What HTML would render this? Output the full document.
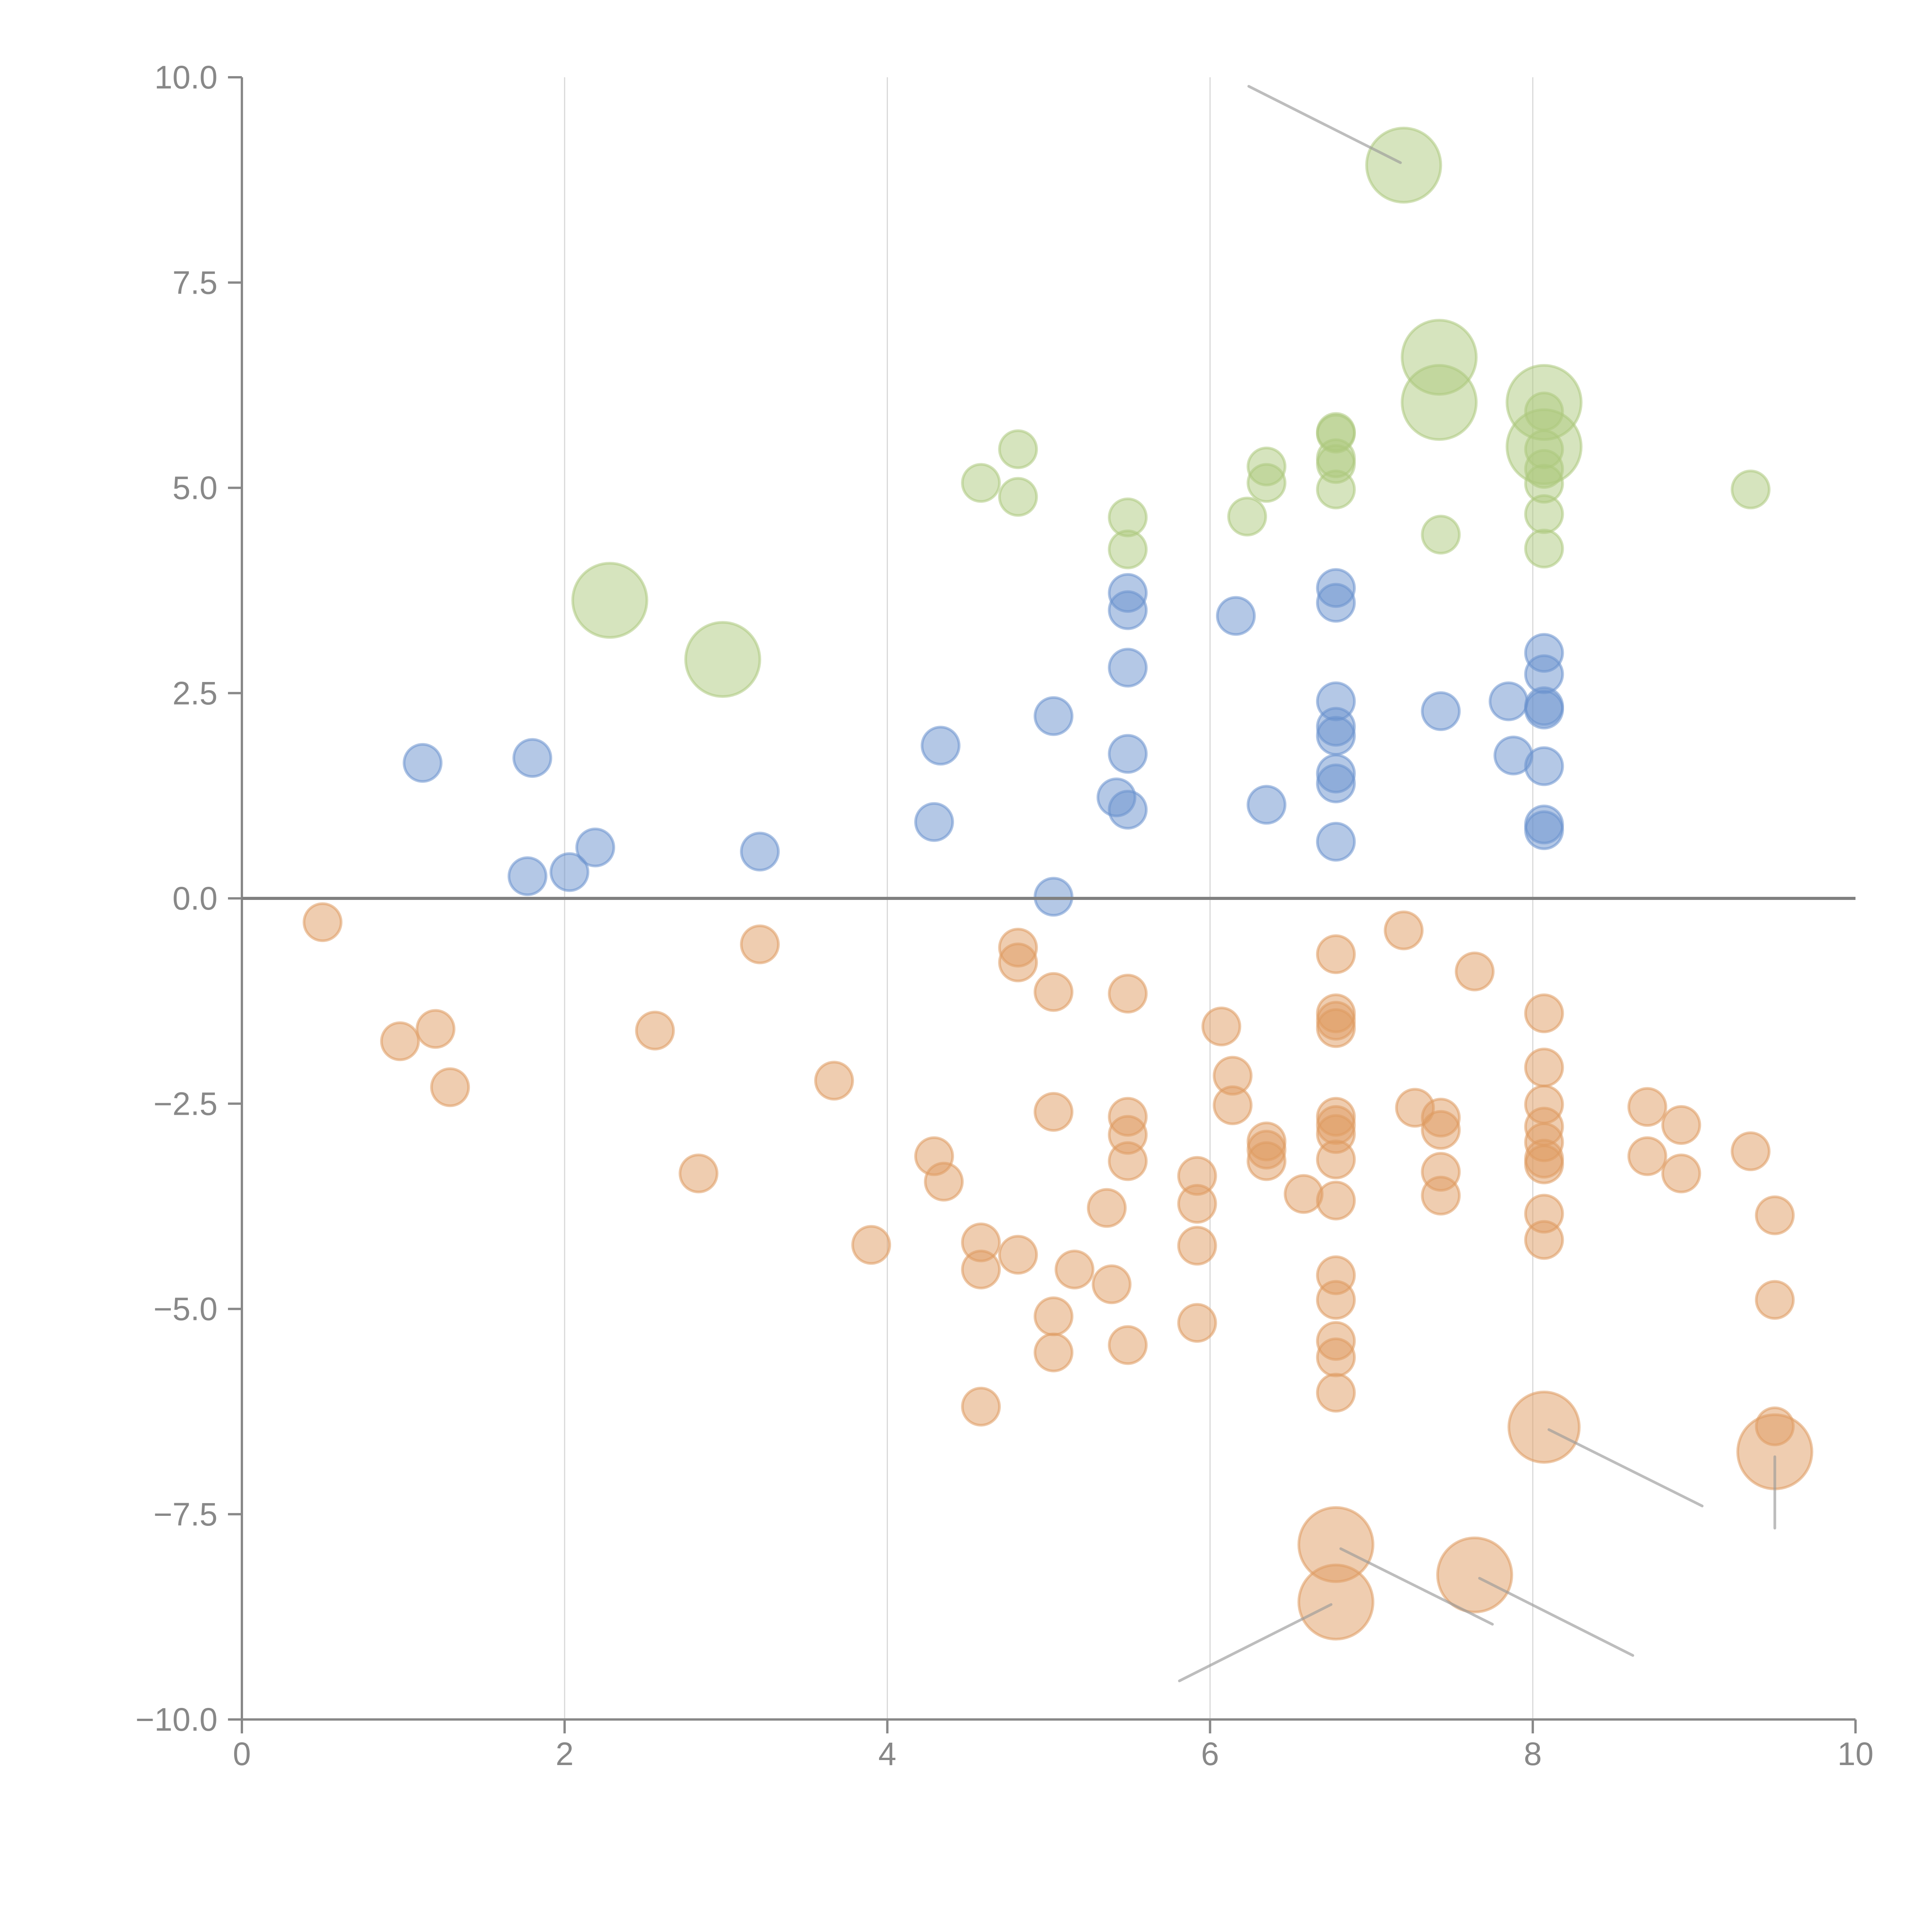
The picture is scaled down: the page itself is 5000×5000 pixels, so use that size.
<!DOCTYPE html>
<html><head><meta charset="utf-8"><style>html,body{margin:0;padding:0;background:#fff}svg{display:block}</style></head>
<body>
<svg id="chart" width="5000" height="5000" viewBox="0 0 5000 5000" xmlns="http://www.w3.org/2000/svg" font-family="Liberation Sans, sans-serif">
<g id="grid"></g>
<g id="marks"></g>
<g id="leaders"></g>
<g id="axes"></g>
</svg>
<script>
const xTicks=[0,2,4,6,8,10];
const xTickLabels=["0","2","4","6","8","10"];
const yTicks=[10,7.5,5,2.5,0,-2.5,-5,-7.5,-10];
const yTickLabels=["10.0","7.5","5.0","2.5","0.0","\u22122.5","\u22125.0","\u22127.5","\u221210.0"];
const blueX=[1.12,1.80,1.77,2.03,2.19,3.21,4.33,4.29,5.03,5.03,5.42,5.49,5.49,5.49,5.49,5.49,6.16,6.35,6.78,6.78,6.78,6.78,6.78,6.78,6.78,6.78,7.43,7.85,7.88,8.07,8.07,8.07,8.07,8.07,8.07,8.07];
const blueY=[1.65,1.71,0.27,0.32,0.62,0.57,1.86,0.93,2.22,0.02,1.23,1.08,1.76,2.81,3.51,3.72,3.44,1.14,3.78,3.60,2.40,2.09,1.98,1.52,1.40,0.69,2.28,2.40,1.74,2.99,2.73,2.34,2.30,1.61,0.90,0.83];
const greenX=[4.58,4.81,4.81,5.49,5.49,6.23,6.35,6.35,6.78,6.78,6.78,6.78,6.78,7.43,8.07,8.07,8.07,8.07,8.07,8.07,9.35,2.28,2.98,7.20,7.42,7.42,8.07,8.07];
const greenY=[5.06,5.47,4.89,4.64,4.25,4.65,5.26,5.06,5.68,5.66,5.36,5.29,4.98,4.43,5.93,5.47,5.23,5.05,4.68,4.26,4.98,3.63,2.91,8.93,6.59,6.04,6.04,5.50];
const greenSize=[1,1,1,1,1,1,1,1,1,1,1,1,1,1,1,1,1,1,1,1,1,4,4,4,4,4,4,4];
const orangeX=[0.50,0.98,1.20,1.29,2.56,2.83,3.21,3.67,3.90,4.29,4.35,4.58,4.58,4.58,4.81,4.81,4.81,5.03,5.03,5.03,5.03,5.16,5.36,5.39,5.49,5.49,5.49,5.49,5.49,5.92,5.92,5.92,5.92,6.07,6.14,6.14,6.35,6.35,6.35,6.58,6.78,6.78,6.78,6.78,6.78,6.78,6.78,6.78,6.78,6.78,6.78,6.78,6.78,6.78,7.20,7.27,7.43,7.43,7.43,7.43,7.64,8.07,8.07,8.07,8.07,8.07,8.07,8.07,8.07,8.07,8.71,8.71,8.92,8.92,9.35,9.50,9.50,9.50,8.07,6.78,6.78,7.64,9.50];
const orangeY=[-0.29,-1.74,-1.59,-2.30,-1.61,-3.35,-0.56,-2.22,-4.22,-3.14,-3.45,-4.19,-4.52,-6.19,-0.60,-0.78,-4.34,-1.14,-2.60,-5.09,-5.53,-4.52,-3.77,-4.70,-1.16,-2.66,-2.88,-3.20,-5.44,-3.38,-3.72,-4.23,-5.17,-1.56,-2.16,-2.52,-2.96,-3.06,-3.20,-3.60,-0.68,-1.40,-1.49,-1.58,-2.66,-2.76,-2.87,-3.18,-3.68,-4.59,-4.89,-5.39,-5.59,-6.02,-0.39,-2.55,-2.67,-2.82,-3.33,-3.62,-0.89,-1.40,-2.06,-2.51,-2.78,-2.97,-3.17,-3.24,-3.84,-4.16,-2.54,-3.14,-2.76,-3.35,-3.08,-3.86,-4.89,-6.43,-6.44,-7.87,-8.57,-8.24,-6.74];
const orangeSize=[1,1,1,1,1,1,1,1,1,1,1,1,1,1,1,1,1,1,1,1,1,1,1,1,1,1,1,1,1,1,1,1,1,1,1,1,1,1,1,1,1,1,1,1,1,1,1,1,1,1,1,1,1,1,1,1,1,1,1,1,1,1,1,1,1,1,1,1,1,1,1,1,1,1,1,1,1,1,3.6,4,4,4,4];
const leaderX1=[6.24,8.10,6.81,7.67,6.75,9.50];
const leaderY1=[9.89,-6.47,-7.92,-8.28,-8.60,-6.80];
const leaderX2=[7.18,9.05,7.75,8.62,5.81,9.50];
const leaderY2=[8.96,-7.40,-8.84,-9.22,-9.53,-7.67];

const NS="http://www.w3.org/2000/svg";
const X0=626,X1=4802,Y0=4450,Y1=200;
function sx(v){return X0+(v-0)/(10-0)*(X1-X0);}
function sy(v){return Y0-(v+10)/20*(Y0-Y1);}
function sr(s){return 48*Math.sqrt(s);}
function mk(tag,attrs,parent){const e=document.createElementNS(NS,tag);for(const k in attrs)e.setAttribute(k,attrs[k]);parent.appendChild(e);return e;}
const grid=document.getElementById('grid'),marks=document.getElementById('marks'),leaders=document.getElementById('leaders'),axes=document.getElementById('axes');
const AX="#888";
xTicks.forEach((t,i)=>{
  if(t>0&&t<10){const g=mk('line',{x1:sx(t),x2:sx(t),y1:Y1,y2:Y0,stroke:'#d8d8d8','stroke-width':3},grid);
  
  }
  const tk=mk('line',{x1:sx(t),x2:sx(t),y1:Y0,y2:Y0+36,stroke:AX,'stroke-width':6},axes);
  
  
  const tx=mk('text',{x:sx(t),y:Y0+118,'text-anchor':'middle','font-size':84,fill:AX},axes);
  
  
  tx.textContent=xTickLabels[i];
});
yTicks.forEach((t,i)=>{
  const tk=mk('line',{x1:X0-36,x2:X0,y1:sy(t),y2:sy(t),stroke:AX,'stroke-width':6},axes);
  
  
  const tx=mk('text',{x:563,y:sy(t)+29,'text-anchor':'end','font-size':84,fill:AX},axes);
  
  
  tx.textContent=yTickLabels[i];
});
const xa=mk('line',{x1:X0,x2:X1,y1:Y0,y2:Y0,stroke:AX,'stroke-width':6},axes);


const ya=mk('line',{x1:X0,x2:X0,y1:Y1,y2:Y0,stroke:AX,'stroke-width':6},axes);


const zl=mk('line',{x1:X0,x2:X1,y1:sy(0),y2:sy(0),stroke:'#808080','stroke-width':8},axes);



function series(xs,ys,ss,color,name){
  xs.forEach((x,i)=>{
    const c=mk('circle',{cx:sx(x),cy:sy(ys[i]),r:sr(ss?ss[i]:1),fill:color,'fill-opacity':0.5,stroke:color,'stroke-opacity':0.55,'stroke-width':7},marks);
    
    
  });
}
series(blueX,blueY,null,'#6a92cd','blue-bubble');
series(greenX,greenY,greenSize,'#adc97d','green-bubble');
series(orangeX,orangeY,orangeSize,'#df9b61','orange-bubble');
leaderX1.forEach((x,i)=>{
  const l=mk('line',{x1:sx(x),y1:sy(leaderY1[i]),x2:sx(leaderX2[i]),y2:sy(leaderY2[i]),stroke:'#999','stroke-opacity':0.65,'stroke-width':7,'stroke-linecap':'round'},leaders);
  
  
});
</script>
</body></html>
